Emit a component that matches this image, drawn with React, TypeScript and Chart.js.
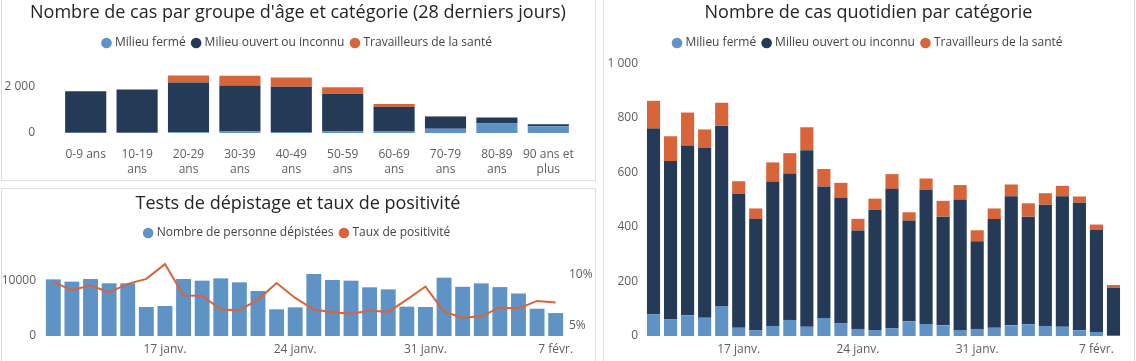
import React, { useEffect, useRef } from 'react';
import { Chart, registerables } from 'chart.js';

Chart.register(...registerables);

const FONT = '"Segoe UI", "Open Sans", "Noto Sans", sans-serif';
Chart.defaults.font.family = FONT;

const C_CLOSED = '#5f92c5';
const C_OPEN = '#243a56';
const C_HEALTH = '#d8653a';
const TICK_COLOR = '#605e5c';
const TITLE_COLOR = '#252423';
const LEGEND_COLOR = '#444444';

// ---- Chart 1: cases by age group (28 days)
const ageGroups = [
  ['0-9 ans'],
  ['10-19', 'ans'],
  ['20-29', 'ans'],
  ['30-39', 'ans'],
  ['40-49', 'ans'],
  ['50-59', 'ans'],
  ['60-69', 'ans'],
  ['70-79', 'ans'],
  ['80-89', 'ans'],
  ['90 ans et', 'plus'],
];
const ageClosed = [8, 10, 30, 70, 45, 70, 90, 190, 410, 292];
const ageOpen = [1808, 1865, 2160, 1990, 1970, 1640, 1050, 526, 262, 88];
const ageHealth = [4, 30, 315, 425, 395, 280, 118, 8, 4, 2];
const ageTicks = [0, 2000];

// ---- Chart 2: tests and positivity
const testDates = [
  '11 janv.', '12 janv.', '13 janv.', '14 janv.', '15 janv.', '16 janv.', '17 janv.',
  '18 janv.', '19 janv.', '20 janv.', '21 janv.', '22 janv.', '23 janv.', '24 janv.',
  '25 janv.', '26 janv.', '27 janv.', '28 janv.', '29 janv.', '30 janv.', '31 janv.',
  '1 févr.', '2 févr.', '3 févr.', '4 févr.', '5 févr.', '6 févr.', '7 févr.',
];
const testCounts = [
  10300, 9880, 10360, 9580, 9580, 5270, 5450,
  10360, 10060, 10480, 9760, 8180, 4850, 5210,
  11270, 10180, 10060, 8850, 8480, 5330, 5270,
  10600, 8950, 9570, 8890, 7730, 4960, 4170,
];
const positivity = [
  9.3, 8.48, 8.97, 8.28, 9.11, 9.6, 11.05,
  7.96, 7.95, 6.59, 6.52, 7.57, 9.2, 7.73,
  6.59, 6.32, 6.17, 6.49, 6.36, 7.57, 8.85,
  6.38, 5.8, 5.93, 6.8, 6.7, 7.44, 7.28,
];
const testTicks = [0, 10000];
const rateTicks = [5, 10];
const testShownDates = ['17 janv.', '24 janv.', '31 janv.', '7 févr.'];

// ---- Chart 3: daily cases by category
const dailyDates = [
  '12 janv.', '13 janv.', '14 janv.', '15 janv.', '16 janv.', '17 janv.', '18 janv.',
  '19 janv.', '20 janv.', '21 janv.', '22 janv.', '23 janv.', '24 janv.', '25 janv.',
  '26 janv.', '27 janv.', '28 janv.', '29 janv.', '30 janv.', '31 janv.', '1 févr.',
  '2 févr.', '3 févr.', '4 févr.', '5 févr.', '6 févr.', '7 févr.', '8 févr.',
];
const dailyClosed = [
  80, 62, 76, 67, 110, 30, 20,
  37, 59, 34, 66, 46, 26, 22,
  29, 54, 44, 39, 22, 26, 30,
  39, 43, 37, 34, 21, 15, 1,
];
const dailyOpen = [
  681, 580, 623, 625, 661, 491, 410,
  530, 537, 648, 483, 461, 361, 440,
  511, 370, 494, 399, 479, 322, 399,
  474, 395, 445, 479, 468, 374, 176,
];
const dailyHealth = [
  102, 91, 121, 66, 85, 47, 38,
  70, 75, 84, 64, 55, 43, 42,
  54, 30, 40, 58, 53, 40, 39,
  43, 49, 42, 38, 23, 20, 10,
];
const dailyTicks = [0, 200, 400, 600, 800, 1000];
const dailyShownDates = ['17 janv.', '24 janv.', '31 janv.', '7 févr.'];

const fmtSpace = (n: number) => String(n).replace(/\B(?=(\d{3})+(?!\d))/g, ' ');

const titleOpts = (text: string, top: number, bottom: number) => ({
  display: true,
  text,
  color: TITLE_COLOR,
  font: { size: 18, weight: 'normal' as const, family: FONT },
  padding: { top, bottom },
});

const legendOpts = () => ({
  display: true,
  position: 'top' as const,
  labels: {
    usePointStyle: true,
    pointStyle: 'circle',
    boxWidth: 5,
    boxHeight: 7.5,
    padding: 8,
    color: LEGEND_COLOR,
    font: { size: 12, family: FONT },
    sort: (a: any, b: any) => a.datasetIndex - b.datasetIndex,
    generateLabels: (chart: any) =>
      (Chart.defaults.plugins.legend.labels as any)
        .generateLabels(chart)
        .map((item: any) => ({ ...item, lineWidth: 0, strokeStyle: item.fillStyle })),
  },
});

const tickFont = { size: 12, family: FONT };
const noGrid = { display: false, drawTicks: false };

// an empty right-hand axis used only to reserve space on the right of the plot
const spacerAxis = (w: number) => ({
  position: 'right',
  display: true,
  grid: noGrid,
  border: { display: false },
  ticks: { display: false },
  afterFit: (s: any) => { s.width = w; },
});

function makeAgeConfig(): any {
  return {
    type: 'bar',
    data: {
      labels: ageGroups,
      datasets: [
        { label: 'Milieu fermé', data: ageClosed, backgroundColor: C_CLOSED },
        { label: 'Milieu ouvert ou inconnu', data: ageOpen, backgroundColor: C_OPEN },
        { label: 'Travailleurs de la santé', data: ageHealth, backgroundColor: C_HEALTH },
      ],
    },
    options: {
      responsive: false,
      animation: false,
      layout: { padding: 0, autoPadding: false },
      datasets: { bar: { barPercentage: 0.8, categoryPercentage: 1 } },
      plugins: {
        title: titleOpts("Nombre de cas par groupe d'âge et catégorie (28 derniers jours)", 2.2, 5.2),
        legend: legendOpts(),
        tooltip: { enabled: false },
      },
      scales: {
        x: {
          stacked: true,
          grid: noGrid,
          border: { display: false },
          ticks: { font: { ...tickFont, lineHeight: 1.25 }, color: TICK_COLOR, padding: 14.5, autoSkip: false, maxRotation: 0 },
          afterFit: (s: any) => { s.height = 47; },
        },
        y: {
          stacked: true,
          min: 0,
          max: 3217,
          grid: noGrid,
          border: { display: false },
          ticks: { font: tickFont, color: TICK_COLOR, padding: 25, callback: (v: any) => fmtSpace(Number(v)) },
          afterBuildTicks: (s: any) => { s.ticks = ageTicks.map((v) => ({ value: v })); },
          afterFit: (s: any) => { s.width = 60; },
        },
        ySpacer: spacerAxis(22),
      },
    },
  };
}

function makeTestConfig(): any {
  return {
    type: 'bar',
    data: {
      labels: testDates,
      datasets: [
        {
          type: 'bar',
          label: 'Nombre de personne dépistées',
          data: testCounts,
          backgroundColor: C_CLOSED,
          yAxisID: 'y',
          order: 1,
          barPercentage: 0.8,
          categoryPercentage: 1,
        },
        {
          type: 'line',
          label: 'Taux de positivité',
          data: positivity,
          borderColor: '#d9643a',
          backgroundColor: '#d9643a',
          borderWidth: 2,
          pointRadius: 0,
          tension: 0,
          yAxisID: 'y1',
          order: 0,
        },
      ],
    },
    options: {
      responsive: false,
      animation: false,
      layout: { padding: 0, autoPadding: false },
      plugins: {
        title: titleOpts('Tests de dépistage et taux de positivité', 5.2, 4.2),
        legend: legendOpts(),
        tooltip: { enabled: false },
      },
      scales: {
        x: {
          grid: noGrid,
          border: { display: false },
          ticks: {
            font: tickFont,
            color: TICK_COLOR,
            padding: 6.3,
            autoSkip: false,
            maxRotation: 0,
            callback: (_v: any, i: number) => (testShownDates.includes(testDates[i]) ? testDates[i] : ''),
          },
          afterFit: (s: any) => { s.height = 25; },
        },
        y: {
          position: 'left',
          min: 0,
          max: 15818,
          grid: noGrid,
          border: { display: false },
          ticks: { font: tickFont, color: TICK_COLOR, padding: 8, callback: (v: any) => String(v) },
          afterBuildTicks: (s: any) => { s.ticks = testTicks.map((v) => ({ value: v })); },
          afterFit: (s: any) => { s.width = 44; },
        },
        y1: {
          position: 'right',
          min: 4,
          max: 12.53,
          grid: noGrid,
          border: { display: false },
          ticks: { font: tickFont, color: TICK_COLOR, padding: 4, callback: (v: any) => `${v}%` },
          afterBuildTicks: (s: any) => { s.ticks = rateTicks.map((v) => ({ value: v })); },
          afterFit: (s: any) => { s.width = 31; },
        },
      },
    },
  };
}

function makeDailyConfig(): any {
  return {
    type: 'bar',
    data: {
      labels: dailyDates,
      datasets: [
        { label: 'Milieu fermé', data: dailyClosed, backgroundColor: C_CLOSED },
        { label: 'Milieu ouvert ou inconnu', data: dailyOpen, backgroundColor: C_OPEN },
        { label: 'Travailleurs de la santé', data: dailyHealth, backgroundColor: C_HEALTH },
      ],
    },
    options: {
      responsive: false,
      animation: false,
      layout: { padding: 0, autoPadding: false },
      datasets: { bar: { barPercentage: 0.77, categoryPercentage: 1 } },
      plugins: {
        title: titleOpts('Nombre de cas quotidien par catégorie', 2.2, 5.2),
        legend: legendOpts(),
        tooltip: { enabled: false },
      },
      scales: {
        x: {
          stacked: true,
          grid: noGrid,
          border: { display: false },
          ticks: {
            font: tickFont,
            color: TICK_COLOR,
            padding: 6,
            autoSkip: false,
            maxRotation: 0,
            callback: (_v: any, i: number) => (dailyShownDates.includes(dailyDates[i]) ? dailyDates[i] : ''),
          },
          afterFit: (s: any) => { s.height = 25; },
        },
        y: {
          stacked: true,
          min: 0,
          max: 1016.5,
          grid: noGrid,
          border: { display: false },
          ticks: { font: tickFont, color: TICK_COLOR, padding: 7, callback: (v: any) => fmtSpace(Number(v)) },
          afterBuildTicks: (s: any) => { s.ticks = dailyTicks.map((v) => ({ value: v })); },
          afterFit: (s: any) => { s.width = 41; },
        },
        ySpacer: spacerAxis(11),
      },
    },
  };
}

function ChartCanvas(props: { make: () => any; left: number; top: number; width: number; height: number }) {
  const ref = useRef<HTMLCanvasElement | null>(null);
  useEffect(() => {
    if (!ref.current) return;
    const chart = new Chart(ref.current, props.make());
    return () => chart.destroy();
  }, []);
  return (
    <canvas
      ref={ref}
      width={props.width}
      height={props.height}
      style={{ position: 'absolute', left: props.left, top: props.top, width: props.width, height: props.height }}
    />
  );
}

const panel = (left: number, top: number, width: number, height: number): React.CSSProperties => ({
  position: 'absolute',
  left,
  top,
  width,
  height,
  boxSizing: 'border-box',
  border: '1px solid #dedede',
  background: '#ffffff',
});

export default function App() {
  return (
    <div
      style={{
        position: 'fixed',
        left: 0,
        top: 0,
        width: 1136,
        height: 361,
        overflow: 'hidden',
        background: '#ffffff',
      }}
    >
      <div style={panel(1, -2, 595, 183)} />
      <div style={panel(1, 188, 595, 200)} />
      <div style={panel(603, -2, 532, 400)} />
      <ChartCanvas make={makeAgeConfig} left={0} top={0} width={596} height={180} />
      <ChartCanvas make={makeTestConfig} left={0} top={188} width={596} height={173} />
      <ChartCanvas make={makeDailyConfig} left={604} top={0} width={529} height={361} />
    </div>
  );
}
